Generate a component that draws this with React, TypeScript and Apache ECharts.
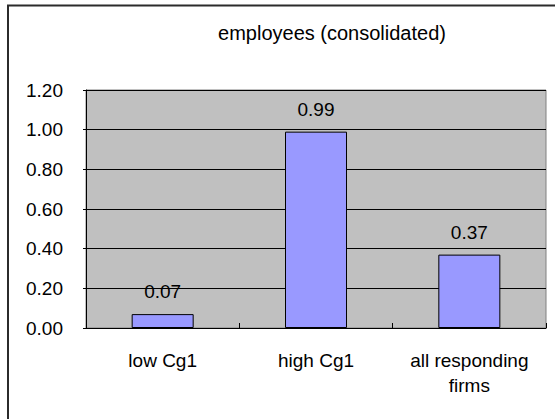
import React, { useEffect, useRef } from "react";
import * as echarts from "echarts";

// Employee effect by firm group
const categories = ["low Cg1", "high Cg1", "all responding\nfirms"];
const values = [0.07, 0.99, 0.37];
const yTicks = { min: 0, max: 1.2, interval: 0.2 };
const titleText = "employees (consolidated)";

const FONT = "'Liberation Sans', Arial, sans-serif";
const FS = 19;

export default function App() {
  const ref = useRef<HTMLDivElement>(null);

  useEffect(() => {
    if (!ref.current) return;
    const chart = echarts.init(ref.current, null, { renderer: "svg" });
    chart.setOption({
      animation: false,
      backgroundColor: "#ffffff",
      textStyle: { fontFamily: FONT },
      title: {
        text: titleText,
        left: 327,
        top: 18,
        textAlign: "center",
        textStyle: { fontFamily: FONT, fontSize: 20, fontWeight: "normal", color: "#000" },
      },
      graphic: [
        {
          // outer frame: only its left and top edges fall inside the canvas
          type: "polyline",
          shape: { points: [[8, 430], [8, 5.5], [570, 5.5]] },
          style: { fill: "none", stroke: "#2b2b2b", lineWidth: 2 },
          silent: true,
          z: 100,
        },
      ],
      grid: {
        left: 86,
        right: 9,
        top: 90,
        bottom: 91,
        show: true,
        backgroundColor: "#c0c0c0",
        borderColor: "#808080",
        borderWidth: 1,
      },
      xAxis: {
        type: "category",
        data: categories,
        boundaryGap: true,
        axisLine: { show: true, lineStyle: { color: "#000", width: 1 } },
        axisTick: { show: true, inside: true, length: 5, lineStyle: { color: "#000" } },
        axisLabel: {
          color: "#000",
          fontFamily: FONT,
          fontSize: FS,
          lineHeight: 25,
          margin: 20,
          interval: 0,
          align: "center",
        },
      },
      yAxis: {
        type: "value",
        min: yTicks.min,
        max: yTicks.max,
        interval: yTicks.interval,
        axisLine: { show: true, lineStyle: { color: "#000", width: 1 } },
        axisTick: { show: true, length: 3, lineStyle: { color: "#000" } },
        splitLine: { show: true, lineStyle: { color: "#000", width: 1 } },
        axisLabel: {
          color: "#000",
          fontFamily: FONT,
          fontSize: FS,
          margin: 23,
          formatter: (v: number) => v.toFixed(2),
        },
      },
      series: [
        {
          type: "bar",
          data: values,
          barWidth: 62,
          itemStyle: { color: "#9999ff", borderColor: "#000", borderWidth: 1 },
          label: {
            show: true,
            position: "top",
            distance: 13,
            color: "#000",
            fontFamily: FONT,
            fontSize: FS,
            formatter: (p: any) => Number(p.value).toFixed(2),
          },
        },
      ],
    });
    return () => chart.dispose();
  }, []);

  return (
    <div
      ref={ref}
      style={{ position: "fixed", left: 0, top: 0, width: 555, height: 419 }}
    />
  );
}
